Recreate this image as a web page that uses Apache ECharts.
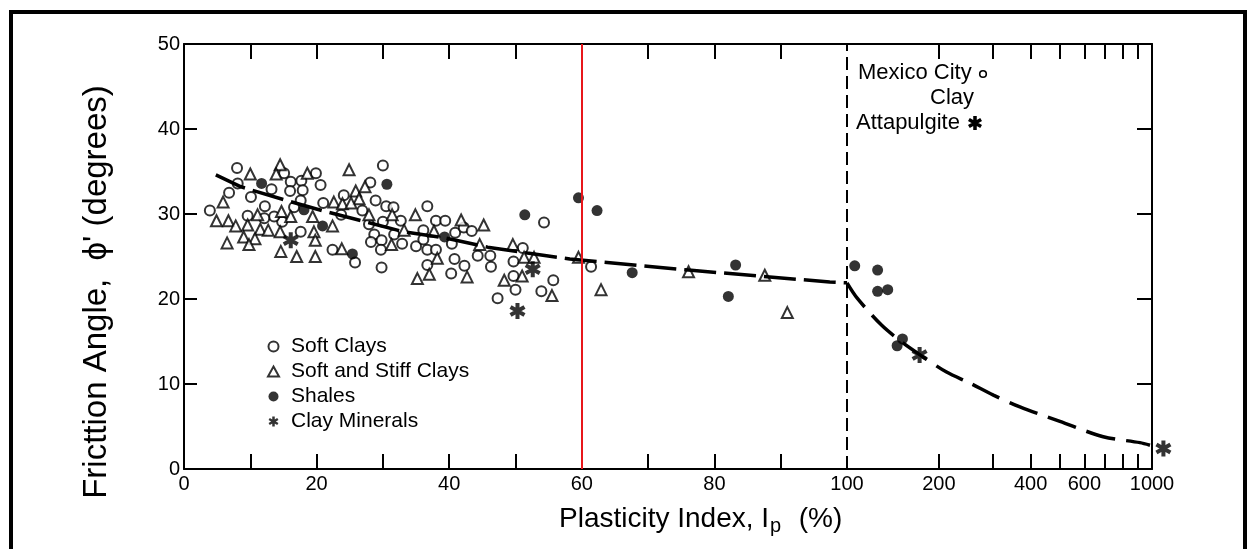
<!DOCTYPE html>
<html><head><meta charset="utf-8">
<script src="https://cdn.jsdelivr.net/npm/echarts@6/dist/echarts.min.js"></script>
<style>html,body{margin:0;padding:0;background:#fff}#c{width:1252px;height:549px}</style>
</head><body><div id="c"></div>
<script>
// ---------- data ----------
const yLabels = [0, 10, 20, 30, 40, 50];
const yInnerTicks = [10, 20, 30, 40];
const xLinearLabels = [0, 20, 40, 60, 80];
const xLinearTicks = [10, 20, 30, 40, 50, 60, 70, 80, 90];
const xLogLabels = [100, 200, 400, 600, 1000];
const xLogTicks = [200, 300, 400, 500, 600, 700, 800, 900];

const softClays = [[8.0,35.4],[6.8,32.5],[10.1,32.0],[3.9,30.4],[12.2,30.9],[13.2,32.9],[15.1,34.8],[16.1,33.8],[16.0,32.7],[17.7,33.9],[17.9,32.8],[17.6,31.6],[16.6,30.8],[14.8,29.1],[13.6,29.7],[12.1,29.5],[9.6,29.8],[17.6,27.9],[8.1,33.6],[19.9,34.8],[20.6,33.4],[30.0,35.7],[28.1,33.7],[24.1,32.2],[21.0,31.3],[28.9,31.6],[30.5,30.9],[31.6,30.8],[26.9,30.4],[32.7,29.2],[30.0,29.1],[27.9,28.8],[28.7,27.6],[31.7,27.6],[28.2,26.7],[29.8,26.9],[32.9,26.5],[29.7,25.8],[22.4,25.8],[25.8,24.3],[29.8,23.7],[23.7,29.9],[35.0,26.2],[36.7,30.9],[38.0,29.2],[39.4,29.2],[36.1,28.1],[36.1,27.0],[36.7,25.8],[38.0,25.8],[40.9,27.8],[42.2,28.4],[43.4,28.0],[40.4,26.5],[40.8,24.7],[42.3,23.9],[36.7,24.0],[40.3,23.0],[44.3,25.1],[46.2,25.1],[46.3,23.8],[51.1,26.0],[49.7,24.4],[49.7,22.7],[50.0,21.1],[47.3,20.1],[54.3,29.0],[55.7,22.2],[53.9,20.9],[61.4,23.8]];
const softStiffClays = [[10.0,34.7],[14.5,35.8],[13.9,34.7],[5.9,31.4],[4.9,29.2],[6.7,29.2],[7.8,28.6],[6.5,26.6],[9.6,28.7],[11.1,29.9],[11.5,28.2],[12.7,28.1],[14.5,27.9],[9.0,27.3],[10.7,27.1],[9.8,26.4],[14.7,30.3],[16.1,29.7],[14.6,25.6],[17.0,25.0],[18.6,34.8],[24.9,35.2],[25.9,32.7],[26.4,31.8],[22.6,31.4],[23.9,31.2],[25.2,31.3],[19.4,29.7],[22.4,28.6],[19.6,27.9],[19.8,26.9],[19.8,25.0],[23.8,25.9],[27.9,29.9],[31.4,29.9],[31.3,26.4],[33.2,28.1],[34.9,29.9],[35.2,22.4],[27.3,33.2],[41.8,29.3],[45.2,28.7],[37.7,28.0],[38.2,24.8],[37.0,22.9],[42.7,22.6],[44.6,26.4],[49.6,26.4],[51.3,24.9],[48.3,22.2],[51.0,22.7],[52.8,24.9],[55.5,20.4],[59.5,24.9],[62.9,21.1],[76.1,23.2],[87.6,22.8],[91.0,18.4]];
const shalesLinear = [[11.7,33.6],[18.1,30.5],[20.9,28.6],[25.4,25.3],[30.6,33.5],[39.3,27.3],[51.4,29.9],[59.5,31.9],[62.3,30.4],[67.6,23.1],[83.2,24.0],[82.1,20.3]];
const shalesLog = [[106,23.9],[126,23.4],[126,20.9],[136,21.1],[152,15.3],[146,14.5]];
const clayMineralsLinear = [[16.1,26.9],[50.3,18.6],[52.6,23.5]];
const clayMineralsLog = [[173,13.4],[1090,2.4]];
const trendLinear = [[4.8,34.6],[8.6,33.2],[15.4,31.6],[20.8,30.4],[33.2,27.9],[39.3,27.2],[45.8,26.1],[51.8,25.4],[58.2,24.7],[76.1,23.4],[97.4,22.0],[100,21.9]];
const trendLog = [[100,21.9],[108,20.1],[130,16.9],[153,14.8],[174,13.4],[212,11.4],[253,10.1],[302,8.7],[369,7.3],[499,5.6],[692,3.8],[913,3.1],[985,2.8]];
const redLineAt = 60;
const breakAt = 100;

// ---------- styling ----------
const FONT = "'Liberation Sans', Arial, Helvetica, sans-serif";
const STAR = 'path://M7.5,0 L12.5,0 L12.5,20 L7.5,20 Z M2.59,2.84 L19.91,12.84 L17.41,17.17 L0.09,7.17 Z M17.41,2.84 L19.91,7.17 L2.59,17.17 L0.09,12.84 Z';
const openStyle = {color: '#fff', borderColor: '#000', borderWidth: 2};
const axisLineStyle = {show: true, lineStyle: {color: '#000', width: 2}};
const tickStyle = (vals, len) => ({show: true, inside: true, length: len, customValues: vals, lineStyle: {color: '#000', width: 2}});
const labelStyle = {color: '#000', fontSize: 20, fontFamily: FONT, formatter: v => String(v)};

const ctx = document.createElement('canvas').getContext('2d');
function tw(text, size) { ctx.font = size + 'px ' + FONT; return ctx.measureText(text).width; }
const xtX = 559, xtMain = 'Plasticity Index, I', xtSize = 28;
const pX = xtX + tw(xtMain, xtSize) + 1;
const pctX = pX + tw('p', 20) + tw('  ', xtSize) + 2;

const chart = echarts.init(document.getElementById('c'), null, {renderer: 'canvas'});
chart.setOption({
  animation: false,
  backgroundColor: '#fff',
  grid: [
    {left: 184, top: 44, width: 663, height: 425, containLabel: false, outerBoundsMode: 'none'},
    {left: 847, top: 44, width: 305, height: 425, containLabel: false, outerBoundsMode: 'none'}
  ],
  xAxis: [
    {gridIndex: 0, type: 'value', position: 'bottom', min: 0, max: 100, interval: 10,
     axisLine: axisLineStyle, axisTick: tickStyle(xLinearTicks, 15), splitLine: {show: false},
     axisLabel: Object.assign({margin: 5, customValues: xLinearLabels}, labelStyle)},
    {gridIndex: 0, type: 'value', position: 'top', min: 0, max: 100, interval: 10,
     axisLine: axisLineStyle, axisTick: tickStyle(xLinearTicks, 15), splitLine: {show: false},
     axisLabel: {show: false}},
    {gridIndex: 1, type: 'log', logBase: 10, position: 'bottom', min: 100, max: 1000,
     axisLine: axisLineStyle, axisTick: tickStyle(xLogTicks, 15), splitLine: {show: false}, minorTick: {show: false},
     axisLabel: Object.assign({margin: 5, customValues: xLogLabels}, labelStyle)},
    {gridIndex: 1, type: 'log', logBase: 10, position: 'top', min: 100, max: 1000,
     axisLine: axisLineStyle, axisTick: tickStyle(xLogTicks, 15), splitLine: {show: false},
     axisLabel: {show: false}}
  ],
  yAxis: [
    {gridIndex: 0, type: 'value', position: 'left', min: 0, max: 50, interval: 10,
     axisLine: axisLineStyle, axisTick: tickStyle(yInnerTicks, 13), splitLine: {show: false},
     axisLabel: Object.assign({margin: 4, customValues: yLabels}, labelStyle)},
    {gridIndex: 1, type: 'value', position: 'right', min: 0, max: 50, interval: 10,
     axisLine: axisLineStyle, axisTick: tickStyle(yInnerTicks, 15), splitLine: {show: false},
     axisLabel: {show: false}}
  ],
  legend: {
    data: ['Soft Clays', 'Soft and Stiff Clays', 'Shales', 'Clay Minerals'],
    orient: 'vertical', left: 267, top: 336, padding: 0, itemGap: 4,
    itemWidth: 11, itemHeight: 10, selectedMode: false,
    textStyle: {color: '#000', fontSize: 21, fontFamily: FONT, lineHeight: 21, padding: [0, 0, 0, 7]}
  },
  graphic: [
    {type: 'rect', shape: {x: 11, y: 12, width: 1234, height: 620}, style: {fill: 'none', stroke: '#000', lineWidth: 4}, silent: true},
    {type: 'text', x: 97, y: 292, rotation: Math.PI / 2,
     style: {text: "Fricttion Angle,  \u03D5' (degrees)", font: '33px ' + FONT, fill: '#000', align: 'center', verticalAlign: 'middle'}},
    {type: 'text', x: xtX, y: 519, style: {text: xtMain, font: xtSize + 'px ' + FONT, fill: '#000', align: 'left', verticalAlign: 'middle'}},
    {type: 'text', x: pX, y: 526, style: {text: 'p', font: '20px ' + FONT, fill: '#000', align: 'left', verticalAlign: 'middle'}},
    {type: 'text', x: pctX, y: 519, style: {text: '(%)', font: xtSize + 'px ' + FONT, fill: '#000', align: 'left', verticalAlign: 'middle'}},
    {type: 'text', x: 858, y: 73, style: {text: 'Mexico City', font: '22px ' + FONT, fill: '#000', align: 'left', verticalAlign: 'middle'}},
    {type: 'circle', shape: {cx: 983, cy: 74, r: 3.3}, style: {fill: '#fff', stroke: '#000', lineWidth: 1.6}},
    {type: 'text', x: 930, y: 98, style: {text: 'Clay', font: '22px ' + FONT, fill: '#000', align: 'left', verticalAlign: 'middle'}},
    {type: 'text', x: 856, y: 123, style: {text: 'Attapulgite', font: '22px ' + FONT, fill: '#000', align: 'left', verticalAlign: 'middle'}}
  ],
  series: [
    {name: 'Soft Clays', type: 'scatter', xAxisIndex: 0, yAxisIndex: 0, symbol: 'circle', symbolSize: 10,
     itemStyle: openStyle, data: softClays, emphasis: {disabled: true}, z: 3},
    {name: 'Soft and Stiff Clays', type: 'scatter', xAxisIndex: 0, yAxisIndex: 0, symbol: 'triangle', symbolSize: 11,
     itemStyle: openStyle, data: softStiffClays, emphasis: {disabled: true}, z: 3},
    {name: 'Shales', type: 'scatter', xAxisIndex: 0, yAxisIndex: 0, symbol: 'circle', symbolSize: 11,
     itemStyle: {color: '#000'}, data: shalesLinear, emphasis: {disabled: true}, z: 3},
    {name: 'Clay Minerals', type: 'scatter', xAxisIndex: 0, yAxisIndex: 0, symbol: STAR, symbolSize: 16,
     itemStyle: {color: '#000'}, data: clayMineralsLinear, emphasis: {disabled: true}, z: 3},
    {name: 'Shales', type: 'scatter', xAxisIndex: 2, yAxisIndex: 1, symbol: 'circle', symbolSize: 11,
     itemStyle: {color: '#000'}, data: shalesLog, emphasis: {disabled: true}, z: 3},
    {name: 'Clay Minerals', type: 'scatter', xAxisIndex: 2, yAxisIndex: 1, symbol: STAR, symbolSize: 16, clip: false,
     itemStyle: {color: '#000'}, data: clayMineralsLog, emphasis: {disabled: true}, z: 3},
    {name: 'Mexico City Clay / Attapulgite key', type: 'scatter', xAxisIndex: 2, yAxisIndex: 1, data: [], silent: true,
     markPoint: {symbol: STAR, symbolSize: 14, itemStyle: {color: '#000'}, label: {show: false},
       data: [{x: 975, y: 123}]}},
    {name: 'trend1', type: 'line', xAxisIndex: 0, yAxisIndex: 0, data: trendLinear, showSymbol: false, symbol: 'none',
     lineStyle: {color: '#000', width: 3.5, type: [32, 8]}, z: 4, emphasis: {disabled: true}, silent: true,
     markLine: {silent: true, symbol: 'none', label: {show: false},
       data: [
         {xAxis: redLineAt, lineStyle: {color: '#e8161b', width: 2, type: 'solid'}},
         {xAxis: breakAt, lineStyle: {color: '#000', width: 2, type: [13, 6]}}
       ]}},
    {name: 'trend2', type: 'line', xAxisIndex: 2, yAxisIndex: 1, data: trendLog, showSymbol: false, symbol: 'none', smooth: 0.3,
     lineStyle: {color: '#000', width: 3.5, type: [30, 11]}, z: 4, emphasis: {disabled: true}, silent: true}
  ]
});
</script>
</body></html>
